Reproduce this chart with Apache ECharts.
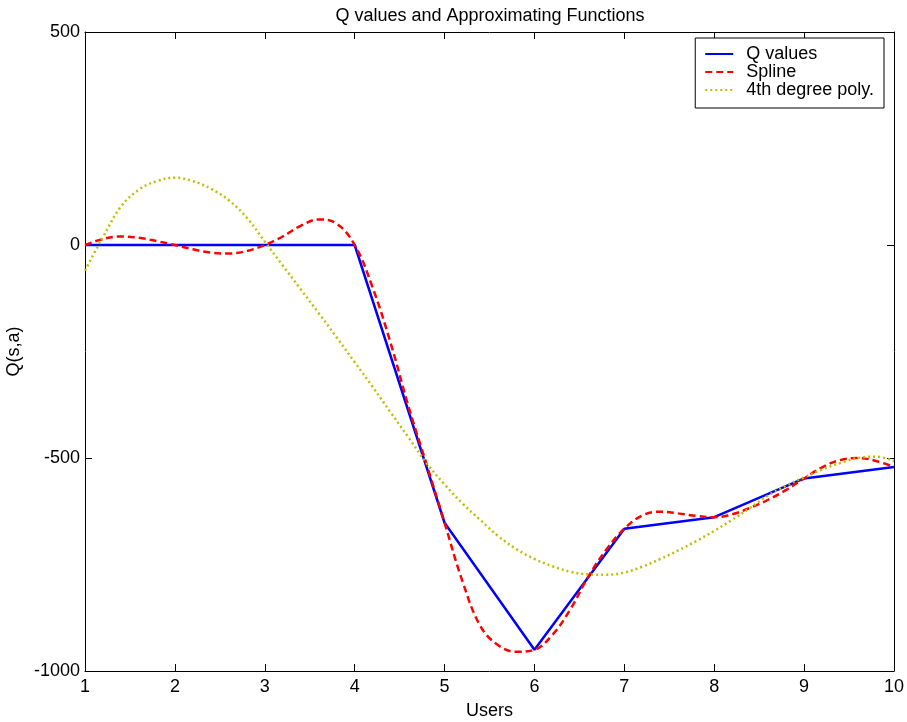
<!DOCTYPE html>
<html>
<head>
<meta charset="utf-8">
<script src="https://cdn.jsdelivr.net/npm/echarts@6/dist/echarts.min.js"></script>
<style>
  html, body { margin: 0; padding: 0; background: #fff; }
  #chart { width: 907px; height: 722px; }
</style>
</head>
<body>
<div id="chart"></div>
<script>
// Q values at each user
var users = [1, 2, 3, 4, 5, 6, 7, 8, 9, 10]
var qValues = [0, 0, 0, 0, -652, -950, -666, -639, -548, -521]

// spline
var splineX = [1, 1.2, 1.4, 1.6, 1.8, 2, 2.2, 2.4, 2.6, 2.8, 3, 3.2, 3.4, 3.6, 3.8, 4,
  4.2, 4.4, 4.6, 4.8, 5, 5.2, 5.4, 5.6, 5.8, 6, 6.2, 6.4, 6.6, 6.8, 7,
  7.2, 7.4, 7.6, 7.8, 8, 8.2, 8.4, 8.6, 8.8, 9, 9.2, 9.4, 9.6, 9.8, 10]
var splineY = [0, 14, 20, 17, 9, 0, -10, -18, -20, -14, 0, 20, 45, 60, 50, 0,
  -100, -230, -380, -515, -652, -790, -895, -940, -955, -950, -915, -855, -778, -715, -666,
  -635, -626, -630, -636, -639, -632, -617, -598, -575, -548, -522, -505, -500, -507, -521]

// 4th degree polynomial
var polyX = [1, 1.15, 1.2, 1.4, 1.6, 1.8, 2, 2.2, 2.4, 2.6, 2.8, 3, 3.2, 3.4, 3.6, 3.8, 4,
  4.2, 4.4, 4.6, 4.8, 5, 5.2, 5.4, 5.6, 5.8, 6, 6.2, 6.4, 6.6, 6.8, 7,
  7.2, 7.4, 7.6, 7.8, 8, 8.2, 8.4, 8.6, 8.8, 9, 9.2, 9.4, 9.6, 9.8, 10]
var polyY = [-60, 0, 19, 90, 130, 150, 158, 150, 132, 105, 64, 8, -48, -104, -160, -217, -275,
  -333, -393, -452, -512, -562, -607, -646, -684, -714, -737, -754, -767, -773, -774, -769,
  -755, -737, -717, -695, -671, -645, -617, -588, -565, -545, -527, -512, -500, -497, -507]

var yTicks = [-1000, -500, 0, 500]
var font = 'Liberation Sans, Arial, Helvetica, sans-serif'
var fs = 18

function zip(xs, ys) {
  return xs.map(function (x, i) { return [x, ys[i]] })
}

var chart = echarts.init(document.getElementById('chart'), null, { renderer: 'canvas' })

var plainAxis = {
  axisLine: { show: true, onZero: false, lineStyle: { color: '#000', width: 1 } },
  axisTick: { show: true, inside: true, length: 7, lineStyle: { color: '#000' } },
  splitLine: { show: false }
}

chart.setOption({
  backgroundColor: '#fff',
  animation: false,
  title: {
    text: 'Q values and Approximating Functions',
    left: 485,
    textAlign: 'center',
    top: 2,
    textStyle: { fontFamily: font, fontSize: fs, fontWeight: 'normal', color: '#000' }
  },
  grid: { left: 85, right: 13, top: 32, bottom: 51, containLabel: false, outerBoundsMode: 'none' },
  legend: {
    orient: 'vertical',
    right: 23,
    top: 38,
    backgroundColor: '#fff',
    borderColor: '#000',
    borderWidth: 1,
    padding: [7, 10, 9, 9],
    itemWidth: 28,
    itemHeight: 12,
    itemGap: 0,
    itemStyle: { opacity: 0 },
    textStyle: { fontFamily: font, fontSize: fs, color: '#000', padding: [0, 0, 0, 8] },
    data: ['Q values', 'Spline', '4th degree poly.']
  },
  xAxis: [
    Object.assign({
      type: 'value', min: 1, max: 10, interval: 1, position: 'bottom',
      name: 'Users', nameLocation: 'middle', nameGap: 31,
      nameTextStyle: { fontFamily: font, fontSize: fs, color: '#000' },
      axisLabel: { fontFamily: font, fontSize: fs, color: '#000', margin: 7 }
    }, plainAxis),
    Object.assign({
      type: 'value', min: 1, max: 10, interval: 1, position: 'top',
      axisLabel: { show: false }
    }, plainAxis)
  ],
  yAxis: [
    Object.assign({
      type: 'value', min: -1000, max: 500, interval: 500, position: 'left',
      name: 'Q(s,a)', nameLocation: 'middle', nameGap: 57, nameRotate: 90,
      nameTextStyle: { fontFamily: font, fontSize: fs, color: '#000' },
      axisLabel: { fontFamily: font, fontSize: fs, color: '#000', margin: 5,
        customValues: yTicks,
        formatter: function (v) { return String(v) } }
    }, plainAxis),
    Object.assign({
      type: 'value', min: -1000, max: 500, interval: 500, position: 'right',
      axisLabel: { show: false }
    }, plainAxis)
  ],
  series: [
    {
      name: 'Q values', type: 'line', data: zip(users, qValues),
      symbol: 'none', smooth: false,
      itemStyle: { color: '#0000ff' },
      lineStyle: { color: '#0000ff', width: 2.5 }
    },
    {
      name: 'Spline', type: 'line', data: zip(splineX, splineY),
      symbol: 'none', smooth: 0.4,
      itemStyle: { color: '#ff0000' },
      lineStyle: { color: '#ff0000', width: 2.5, type: [7, 4] }
    },
    {
      name: '4th degree poly.', type: 'line', data: zip(polyX, polyY),
      symbol: 'none', smooth: 0.4,
      itemStyle: { color: '#bfbf00' },
      lineStyle: { color: '#bfbf00', width: 2.5, type: [2, 3] }
    }
  ]
})
</script>
</body>
</html>
